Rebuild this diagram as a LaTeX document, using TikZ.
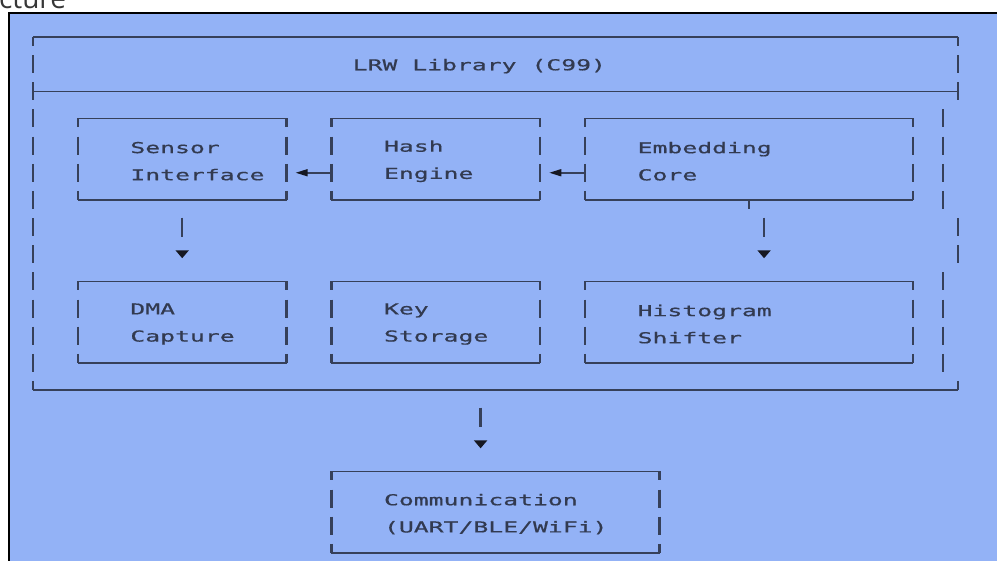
\documentclass[tikz,border=0pt]{standalone}
\usepackage{fontspec}
\usepackage{xcolor}
\usetikzlibrary{positioning, calc, arrows.meta}

\newfontfamily\asciifont{DejaVu Sans Mono}[FakeStretch=1.65, FakeBold=0.6]
\newfontfamily\capfont{Open Sans}

\definecolor{bgblue}{RGB}{147,178,246}
\definecolor{linecol}{RGB}{54,64,90}
\definecolor{textcol}{RGB}{50,58,80}
\definecolor{tipcol}{RGB}{22,24,34}
\definecolor{capgray}{RGB}{55,55,55}

% size of one character cell
\def\cw{7.46pt}
\def\rh{13.575pt}

% box outline: solid top and bottom, dashed sides
\newcommand{\modframe}[1]{%
  \draw[hline] (#1.north west) -- (#1.north east);
  \draw[hline] (#1.south west) -- (#1.south east);
  \draw[vbar] (#1.north west) -- (#1.south west);
  \draw[vbar] (#1.north east) -- (#1.south east);
}

\tikzset{
  hline/.style={linecol, line width=0.8pt},
  vbar/.style={linecol, line width=1.2pt, dash pattern=on 9pt off 4.575pt, dash phase=4.5pt},
  vbarhalf/.style={vbar, dash phase=11.2875pt},
  box/.style={minimum width=14*\cw, minimum height=3*\rh, inner sep=0pt, outer sep=0pt},
  widebox/.style={box, minimum width=22*\cw},
  txt/.style={font=\asciifont\fontsize{7.5}{13.575}\selectfont, text=textcol, align=left, inner sep=0pt, anchor=west, yshift=-1pt},
  leftarrow/.style={hline, -{Triangle[length=6pt,width=3.5pt,color=tipcol]}, shorten >=4.5pt},
  downarrow/.style={linecol, line width=1.2pt, dash pattern=on 9.5pt off 31.225pt, dash phase=31.905pt,
    -{Triangle[length=4pt,width=6.5pt,color=tipcol]}, shorten >=11.54pt}
}

\begin{document}
\begin{tikzpicture}[x=\cw, y=-\rh]

    \useasboundingbox (-2.2118,-1.3628) rectangle (64.611,19.3);

    % Background panel
    \fill[bgblue] (-1.629,-0.902) rectangle (66,20);
    \draw[black, line width=1pt] (-1.629,20) -- (-1.629,-0.902) -- (66,-0.902);
    \node[font=\capfont\fontsize{14}{16}\selectfont, text=capgray, anchor=base west, inner sep=0pt] (caption) at (-2.3,-1.057) {cture};

    % Library frame
    \node[inner sep=0pt, outer sep=0pt, minimum width=62*\cw, minimum height=13*\rh] (lib) at (31,6.5) {};
    \draw[hline] (lib.north west) -- (lib.north east);
    \draw[hline] (0,2) -- (62,2);
    \draw[hline] (lib.south west) -- (lib.south east);
    \draw[vbar] (lib.north west) -- (lib.south west);
    \draw[vbar] (62,0) -- (62,2.5);
    \draw[vbarhalf] (61,2.5) -- (61,6.5);
    \draw[vbarhalf] (62,6.5) -- (62,8.5);
    \draw[vbarhalf] (61,8.5) -- (61,12.5);
    \draw[vbarhalf] (62,12.5) -- (62,13);
    \node[txt] (libtitle) at (21.4,1) {LRW Library (C99)};

    % Modules
    \node[box] (sensor) at (10,4.5) {};
    \node[box] (hash) at (27,4.5) {};
    \node[widebox] (emb) at (48,4.5) {};
    \node[box] (dma) at (10,10.5) {};
    \node[box] (key) at (27,10.5) {};
    \node[widebox] (hist) at (48,10.5) {};
    \node[widebox] (comm) at (31,17.5) {};
    \foreach \b in {sensor,hash,emb,dma,key,hist,comm} {\modframe{\b}}

    \node[txt] (sensortxt) at ([xshift=3.5*\cw]sensor.west) {Sensor\\Interface};
    \node[txt] (hashtxt) at ([xshift=3.5*\cw]hash.west) {Hash\\Engine};
    \node[txt] (embtxt) at ([xshift=3.5*\cw]emb.west) {Embedding\\Core};
    \node[txt] (dmatxt) at ([xshift=3.5*\cw]dma.west) {DMA\\Capture};
    \node[txt] (keytxt) at ([xshift=3.5*\cw]key.west) {Key\\Storage};
    \node[txt] (histtxt) at ([xshift=3.5*\cw]hist.west) {Histogram\\Shifter};
    \node[txt] (commtxt) at ([xshift=3.5*\cw]comm.west) {Communication\\(UART/BLE/WiFi)};

    % Data flow
    \draw[leftarrow] ([yshift=-0.5*\rh]hash.west) -- ([yshift=-0.5*\rh]sensor.east);
    \draw[leftarrow] ([yshift=-0.5*\rh]emb.west) -- ([yshift=-0.5*\rh]hash.east);
    \draw[downarrow] (sensor.south) -- (dma.north);
    \draw[hline] (emb.south) -- ++(0,-4.5pt);
    \draw[downarrow] ([xshift=\cw]emb.south) -- ([xshift=\cw]hist.north);
    \draw[downarrow] ([xshift=-\cw]lib.south) -- ([xshift=-\cw]comm.north);

\end{tikzpicture}
\end{document}
